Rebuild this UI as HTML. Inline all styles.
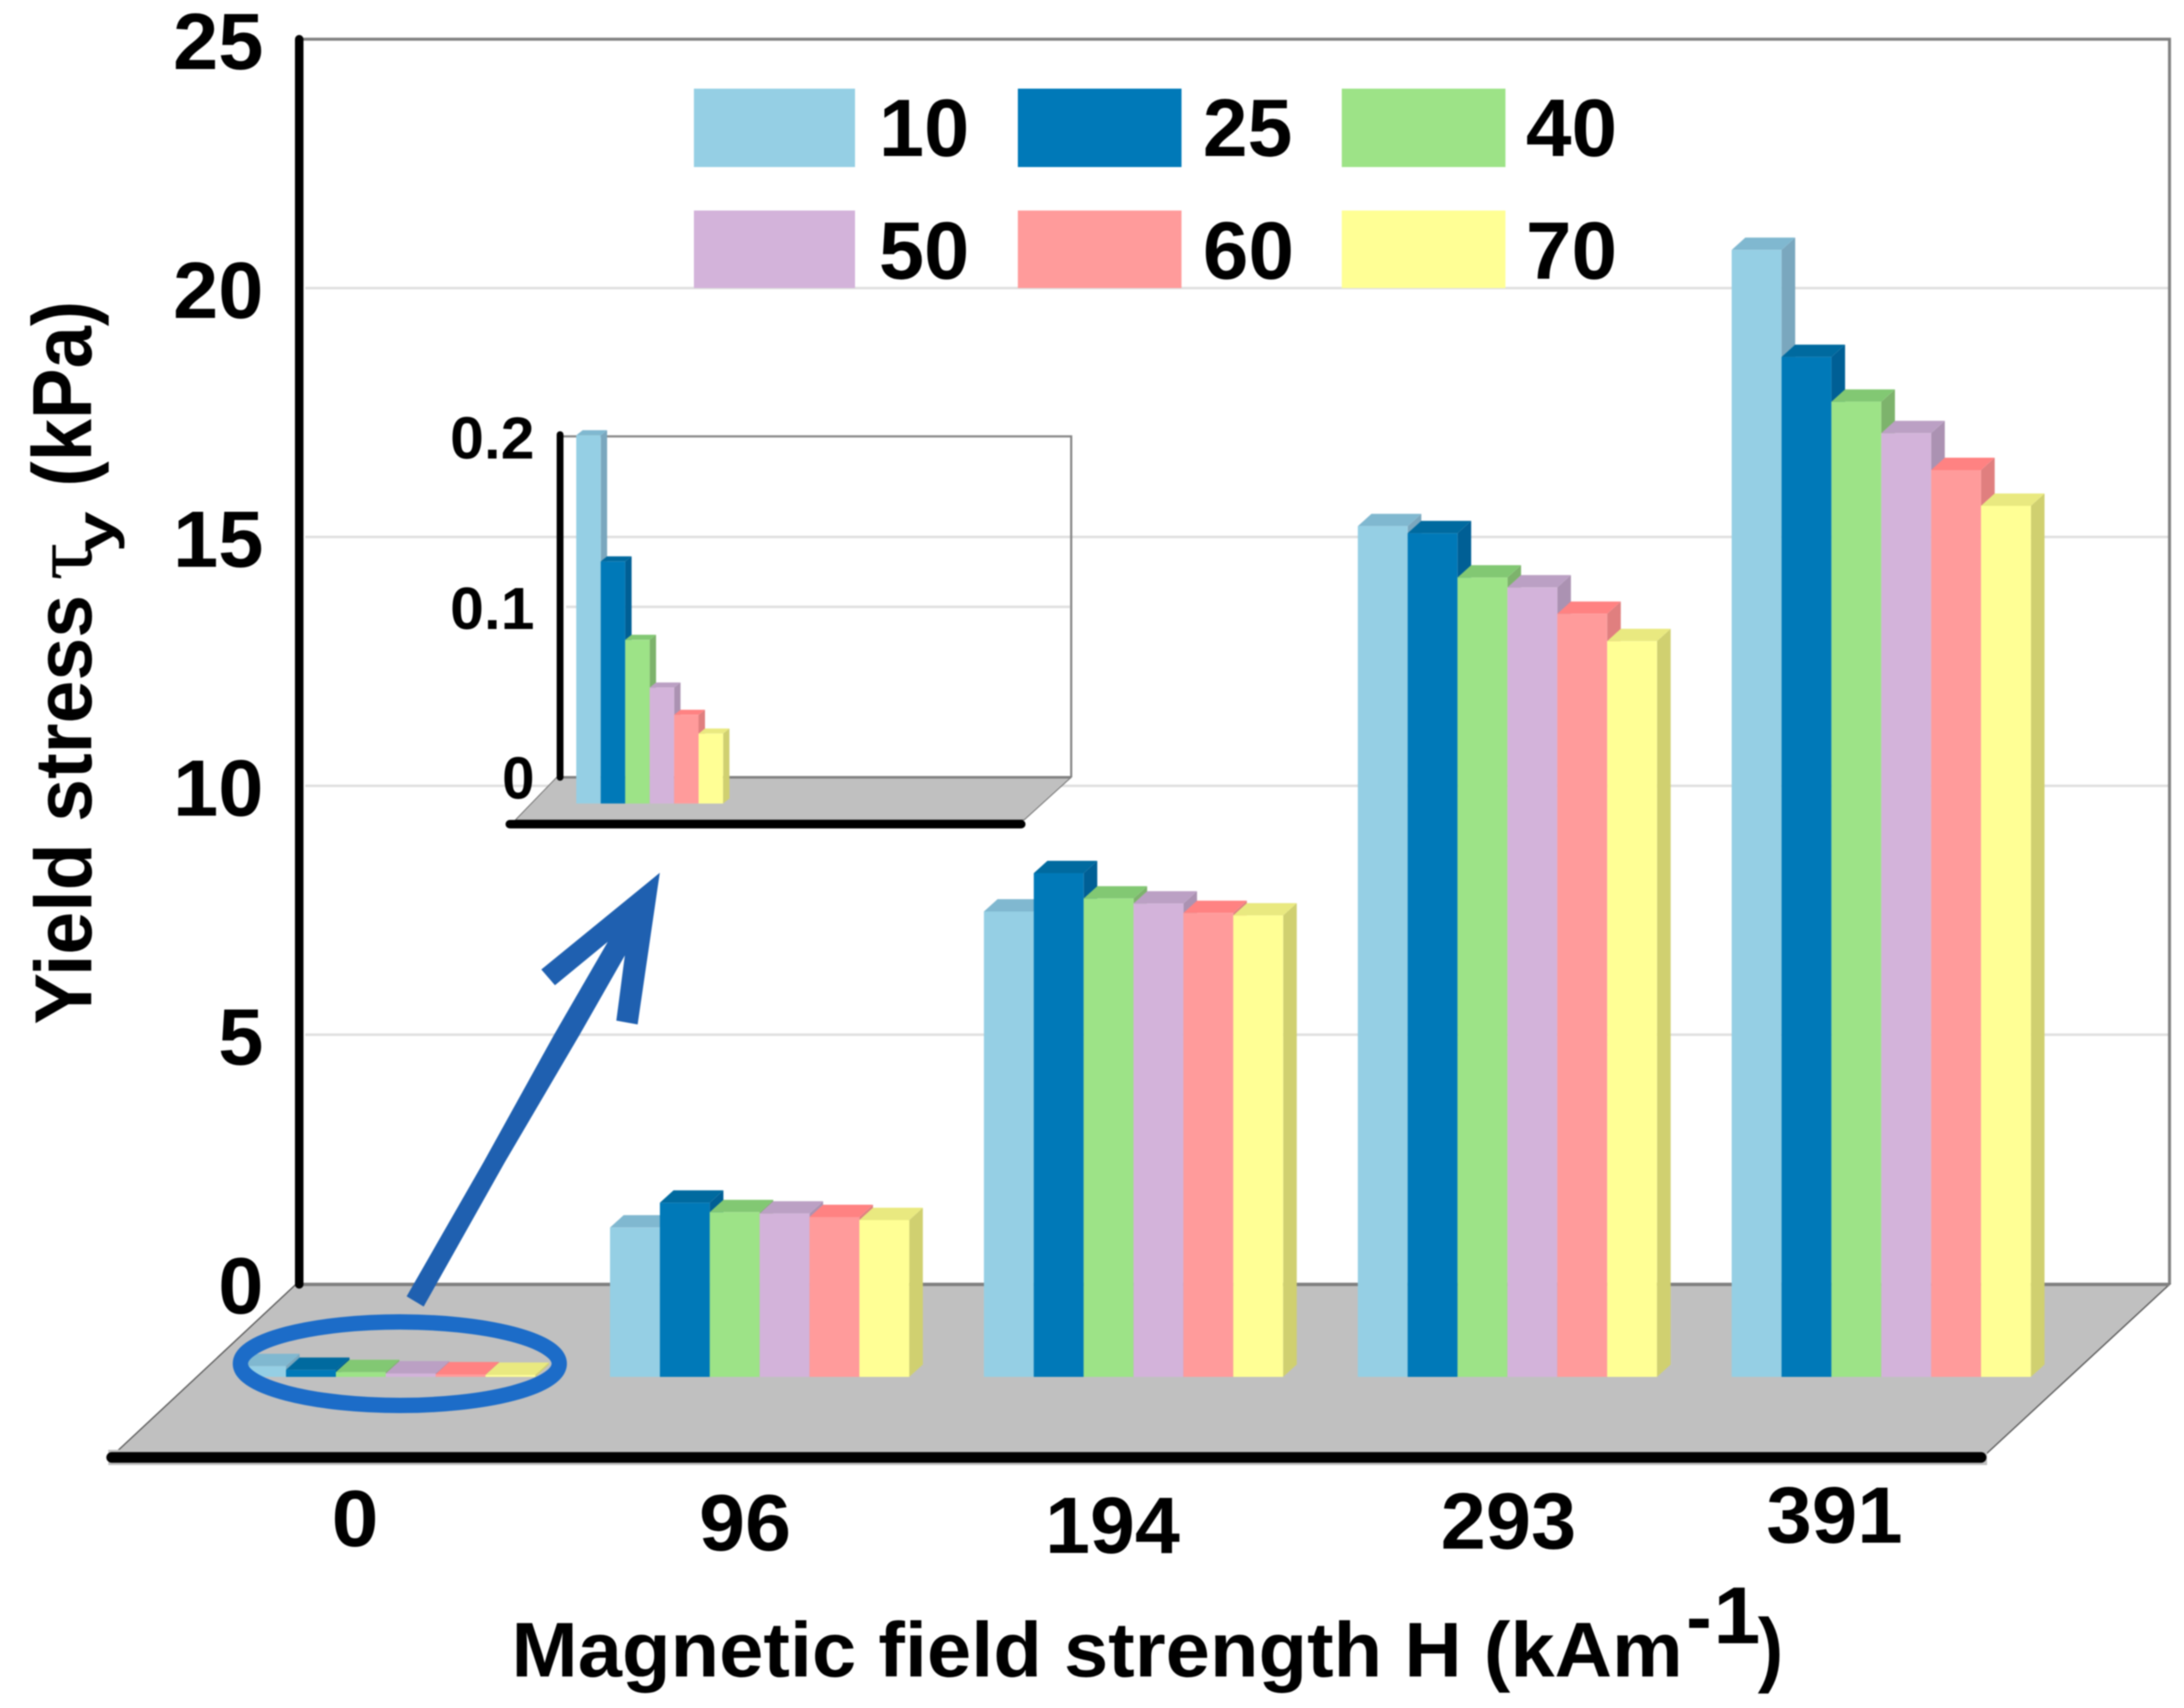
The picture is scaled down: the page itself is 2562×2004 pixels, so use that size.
<!DOCTYPE html>
<html lang="en">
<head>
<meta charset="utf-8">
<title>Yield stress vs magnetic field strength</title>
<style>
html,body{margin:0;padding:0;background:#fff;}
svg{display:block;filter:blur(0.7px);}
text{font-family:"Liberation Sans",sans-serif;font-weight:bold;fill:#000;}
.s0 .front{fill:#95CFE4}.s0 .side{fill:#7AA7BE}.s0 .top{fill:#80B8D0}
.s1 .front{fill:#0079B8}.s1 .side{fill:#005F95}.s1 .top{fill:#006A9F}
.s2 .front{fill:#9DE387}.s2 .side{fill:#7DB36C}.s2 .top{fill:#82C873}
.s3 .front{fill:#D3B3DA}.s3 .side{fill:#AB92B2}.s3 .top{fill:#BBA0C4}
.s4 .front{fill:#FF9B9B}.s4 .side{fill:#E07F7F}.s4 .top{fill:#FF8282}
.s5 .front{fill:#FFFF95}.s5 .side{fill:#D0D070}.s5 .top{fill:#E9E980}
.grid{stroke:#E0E0E0;stroke-width:3;}
.tick-main{font-size:94px;}
.tick-inset{font-size:70px;}
</style>
</head>
<body>
<svg id="chart" xmlns="http://www.w3.org/2000/svg" width="2562" height="2004" viewBox="0 0 2562 2004">
  <rect x="0" y="0" width="2562" height="2004" fill="#ffffff"/>

  <g id="main-grid"></g>

  <path d="M351,46 H2545 V1507" fill="none" stroke="#808080" stroke-width="3.5"/>
  <polygon points="347,1507 2545,1507 2331,1705 135,1705" fill="#C0C0C0" stroke="#555555" stroke-width="1.5"/>
  <line x1="347" y1="1507" x2="2545" y2="1507" stroke="#808080" stroke-width="4"/>
  <line x1="351" y1="46" x2="351" y2="1507" stroke="#000" stroke-width="10" stroke-linecap="round"/>
  <rect x="127" y="1701" width="2204" height="18" fill="#C0C0C0"/>
  <line x1="131" y1="1710" x2="2324" y2="1710" stroke="#000" stroke-width="12.5" stroke-linecap="round"/>

  <g id="main-ticks"></g>

  <g id="inset">
    <g id="inset-grid"></g>
    <path d="M657,512 H1256.6 V912" fill="none" stroke="#858585" stroke-width="2.5"/>
    <polygon points="653,912 1256.6,912 1201.5,962 604.6,962" fill="#C0C0C0" stroke="#666666" stroke-width="1"/>
    <line x1="653" y1="912" x2="1256.6" y2="912" stroke="#808080" stroke-width="3"/>
    <line x1="657" y1="510" x2="657" y2="912" stroke="#000" stroke-width="8" stroke-linecap="round"/>
    <line x1="598" y1="967" x2="1198" y2="967" stroke="#000" stroke-width="10" stroke-linecap="round"/>
    <g id="inset-ticks"></g>
    <g id="inset-bars"></g>
  </g>

  <g id="main-bars"></g>

  <g>
    <g class="s0"><rect class="front" x="814" y="104" width="189" height="92"/><text x="1031" y="183" font-size="96" textLength="106" lengthAdjust="spacingAndGlyphs">10</text></g>
    <g class="s1"><rect class="front" x="1194" y="104" width="192" height="92"/><text x="1411" y="183" font-size="96" textLength="105" lengthAdjust="spacingAndGlyphs">25</text></g>
    <g class="s2"><rect class="front" x="1574" y="104" width="192" height="92"/><text x="1790" y="183" font-size="96" textLength="107" lengthAdjust="spacingAndGlyphs">40</text></g>
    <g class="s3"><rect class="front" x="814" y="247" width="189" height="91"/><text x="1031" y="327" font-size="96" textLength="106" lengthAdjust="spacingAndGlyphs">50</text></g>
    <g class="s4"><rect class="front" x="1194" y="247" width="192" height="91"/><text x="1411" y="327" font-size="96" textLength="107" lengthAdjust="spacingAndGlyphs">60</text></g>
    <g class="s5"><rect class="front" x="1574" y="247" width="192" height="91"/><text x="1790" y="327" font-size="96" textLength="107" lengthAdjust="spacingAndGlyphs">70</text></g>
  </g>

  <path d="M477,1521 L567,1364 L650,1214 L713,1105 L651,1156 L635,1137.5 L774,1024 L748,1202 L723,1197.5 L733,1121 L680,1214 L592,1364 L497,1533 Z" fill="#1F60B0"/>
  <ellipse cx="469" cy="1600" rx="187" ry="49" fill="none" stroke="#1C6CC8" stroke-width="18"/>

  <g>
    <text x="389" y="1814" font-size="94" textLength="55" lengthAdjust="spacingAndGlyphs">0</text>
    <text x="820" y="1819" font-size="94" textLength="108" lengthAdjust="spacingAndGlyphs">96</text>
    <text x="1226" y="1822" font-size="94" textLength="158" lengthAdjust="spacingAndGlyphs">194</text>
    <text x="1690" y="1817" font-size="94" textLength="159" lengthAdjust="spacingAndGlyphs">293</text>
    <text x="2072" y="1810" font-size="94" textLength="160" lengthAdjust="spacingAndGlyphs">391</text>
  </g>

  <g>
    <text x="600" y="1967" font-size="91" textLength="1374" lengthAdjust="spacingAndGlyphs">Magnetic field strength H (kAm</text>
    <text x="1978" y="1928" font-size="90" textLength="30" lengthAdjust="spacingAndGlyphs">-</text>
    <text x="2010" y="1928" font-size="95" textLength="55" lengthAdjust="spacingAndGlyphs">1</text>
    <text x="2062" y="1967" font-size="97" textLength="30" lengthAdjust="spacingAndGlyphs">)</text>
  </g>

  <g>
    <text transform="translate(107,1202) rotate(-90)" font-size="95" textLength="504" lengthAdjust="spacingAndGlyphs">Yield stress</text>
    <text transform="translate(107,681) rotate(-90)" font-size="100" textLength="44" lengthAdjust="spacingAndGlyphs" style="font-family:'Liberation Serif','DejaVu Serif',serif;font-weight:normal">τ</text>
    <text transform="translate(133,648) rotate(-90)" font-size="62" textLength="48" lengthAdjust="spacingAndGlyphs">y</text>
    <text transform="translate(107,571) rotate(-90)" font-size="98" textLength="218" lengthAdjust="spacingAndGlyphs">(kPa)</text>
  </g>
</svg>

<script>
const categories = ['0', '96', '194', '293', '391'];
const seriesNames = ['10', '25', '40', '50', '60', '70'];
const series10 = [0.216, 3.00, 9.35, 17.09, 22.64];
const series25 = [0.142, 3.50, 10.12, 16.95, 20.49];
const series40 = [0.096, 3.31, 9.61, 16.06, 19.59];
const series50 = [0.068, 3.28, 9.51, 15.86, 18.96];
const series60 = [0.052, 3.21, 9.32, 15.33, 18.22];
const series70 = [0.041, 3.15, 9.27, 14.78, 17.50];
const allSeries = [series10, series25, series40, series50, series60, series70];
const yTicks = [0, 5, 10, 15, 20, 25];
const insetValues = [0.216, 0.142, 0.096, 0.068, 0.052, 0.041];
const insetTicks = [0, 0.1, 0.2];

const SVG_NS = 'http://www.w3.org/2000/svg';

/* main chart axis functions */
const yWall = v => 1506 - v * 58.4;
const yFront = v => 1615.5 - v * 58.4;
const groupX = i => 277 + i * 438.6;
const barOffset = s => s * 58.5;

/* inset axis functions */
const insetWall = v => 912 - v * 2000;
const insetFront = v => 942.7 - v * 2000;
const insetBarX = s => 676 + s * 28.7;

function poly(points) {
  const el = document.createElementNS(SVG_NS, 'polygon');
  el.setAttribute('points', points.map(p => p[0].toFixed(1) + ',' + p[1].toFixed(1)).join(' '));
  return el;
}

function drawBar(parent, seriesIndex, name, x, w, top, base, dx, dy) {
  const g = document.createElementNS(SVG_NS, 'g');
  g.setAttribute('class', 's' + seriesIndex);
  
  

  const side = poly([[x + w, top], [x + w + dx, top - dy], [x + w + dx, base - dy], [x + w, base]]);
  side.setAttribute('class', 'side');
  
  
  g.appendChild(side);

  const cap = poly([[x, top], [x + dx, top - dy], [x + w + dx, top - dy], [x + w, top]]);
  cap.setAttribute('class', 'top');
  
  
  g.appendChild(cap);

  const front = poly([[x, top], [x + w, top], [x + w, base], [x, base]]);
  front.setAttribute('class', 'front');
  
  
  g.appendChild(front);

  parent.appendChild(g);
}

function drawGridline(parent, name, x1, x2, y) {
  const line = document.createElementNS(SVG_NS, 'line');
  line.setAttribute('class', 'grid');
  line.setAttribute('x1', x1);
  line.setAttribute('x2', x2);
  line.setAttribute('y1', y);
  line.setAttribute('y2', y);
  
  
  parent.appendChild(line);
}

function drawTick(parent, name, cls, label, rightX, y, charW) {
  const t = document.createElementNS(SVG_NS, 'text');
  t.setAttribute('class', cls);
  const width = label.length * charW;
  t.setAttribute('x', rightX - width);
  t.setAttribute('y', y);
  t.setAttribute('textLength', width);
  t.setAttribute('lengthAdjust', 'spacingAndGlyphs');
  
  
  t.textContent = label;
  parent.appendChild(t);
}

/* main gridlines and y ticks */
const mainGrid = document.getElementById('main-grid');
const mainTicks = document.getElementById('main-ticks');
yTicks.forEach(v => {
  if (v > 0 && v < 25) {
    drawGridline(mainGrid, 'gridline-' + v, 358, 2545, yWall(v));
  }
  drawTick(mainTicks, 'y-tick-' + v, 'tick-main', String(v), 309, yWall(v) + 35, 53);
});

/* main bars */
const mainBars = document.getElementById('main-bars');
categories.forEach((cat, c) => {
  seriesNames.forEach((sn, s) => {
    drawBar(mainBars, s, 'bar-h' + cat + '-s' + sn, groupX(c) + barOffset(s), 58.5,
      yFront(allSeries[s][c]), yFront(0), 16, 14.5);
  });
});

/* inset */
const insetGrid = document.getElementById('inset-grid');
const insetTickGroup = document.getElementById('inset-ticks');
insetTicks.forEach(v => {
  if (v > 0 && v < 0.2) {
    drawGridline(insetGrid, 'inset-gridline-' + v, 664, 1255, insetWall(v));
  }
  const label = String(v);
  const offset = v === 0 ? 25 : 26;
  drawTick(insetTickGroup, 'inset-y-tick-' + v, 'tick-inset', label, 627, insetWall(v) + offset, label.length === 1 ? 38 : 33);
});
const insetBars = document.getElementById('inset-bars');
insetValues.forEach((v, s) => {
  drawBar(insetBars, s, 'inset-bar-s' + seriesNames[s], insetBarX(s), 28.7,
    insetFront(v), insetFront(0), 7.5, 6);
});
</script>
</body>
</html>
